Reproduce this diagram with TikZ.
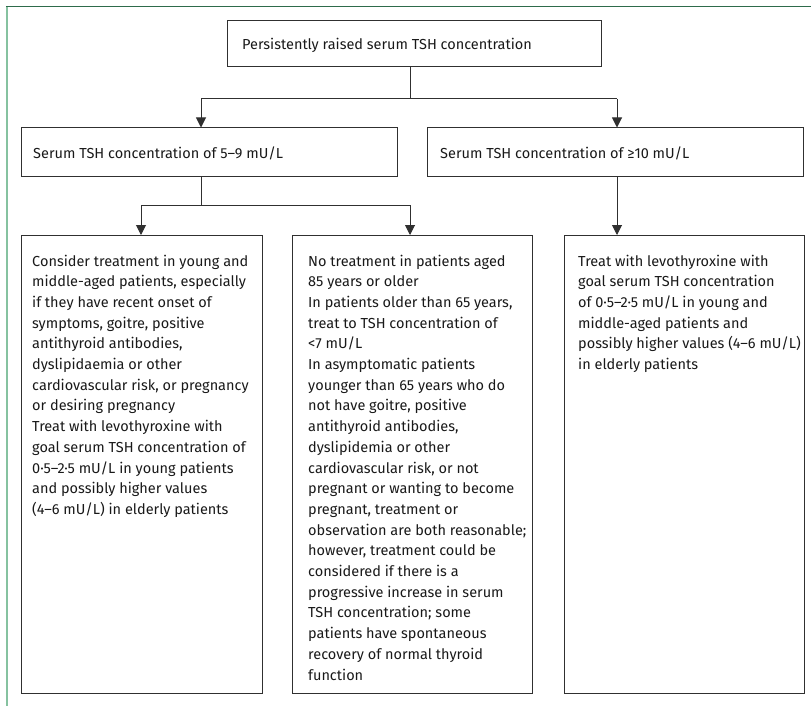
\documentclass[tikz,border=0pt]{standalone}
\usepackage{fontspec}
\setmainfont{Fira Sans}
\usetikzlibrary{arrows.meta}
\definecolor{framedark}{HTML}{2E6B4B}
\definecolor{framelight}{HTML}{86C2A0}
\definecolor{linegray}{HTML}{303030}
\begin{document}
\begin{tikzpicture}[x=1pt,y=-1pt,
  boxst/.style={draw=linegray, line width=1pt, inner sep=0pt, rectangle},
  txt/.style={anchor=base west, inner sep=0pt, font=\fontsize{14.5}{20.7}\selectfont, text=black!90},
  conn/.style={draw=linegray, line width=1pt},
  arr/.style={conn, -{Triangle[width=10pt,length=10pt]}}]
\useasboundingbox (0,0) rectangle (811,706);
% frame
\draw[framelight, line width=2pt] (7,7) -- (7,706);
\draw[framedark, line width=1pt] (6,7) -- (811,7);
% boxes
\node[boxst, minimum width=374pt, minimum height=46pt] (top) at (414,44) {};
\node[boxst, minimum width=376pt, minimum height=48pt] (b2) at (209,152) {};
\node[boxst, minimum width=376pt, minimum height=48pt] (b3) at (615,152) {};
\node[boxst, minimum width=241pt, minimum height=458pt] (b4) at (141.5,464.5) {};
\node[boxst, minimum width=240pt, minimum height=458pt] (b5) at (412,464.5) {};
\node[boxst, minimum width=240pt, minimum height=458pt] (b6) at (684,464.5) {};
% texts
\node[txt] (ttop) at (242,50) {Persistently raised serum TSH concentration};
\node[txt] (t2) at (33,158) {Serum TSH concentration of 5–9 mU/L};
\node[txt] (t3) at (440,158) {Serum TSH concentration of ≥10 mU/L};
\node[txt] (t4) at (32,266) {\begin{tabular}[t]{@{}l@{}}
Consider treatment in young and\\
middle-aged patients, especially\\
if they have recent onset of\\
symptoms, goitre, positive\\
antithyroid antibodies,\\
dyslipidaemia or other\\
cardiovascular risk, or pregnancy\\
or desiring pregnancy\\
Treat with levothyroxine with\\
goal serum TSH concentration of\\
0·5–2·5 mU/L in young patients\\
and possibly higher values\\
(4–6 mU/L) in elderly patients
\end{tabular}};
\node[txt] (t5) at (308,266) {\begin{tabular}[t]{@{}l@{}}
No treatment in patients aged\\
85 years or older\\
In patients older than 65 years,\\
treat to TSH concentration of\\
<7 mU/L\\
In asymptomatic patients\\
younger than 65 years who do\\
not have goitre, positive\\
antithyroid antibodies,\\
dyslipidemia or other\\
cardiovascular risk, or not\\
pregnant or wanting to become\\
pregnant, treatment or\\
observation are both reasonable;\\
however, treatment could be\\
considered if there is a\\
progressive increase in serum\\
TSH concentration; some\\
patients have spontaneous\\
recovery of normal thyroid\\
function
\end{tabular}};
\node[txt] (t6) at (578,266) {\begin{tabular}[t]{@{}l@{}}
Treat with levothyroxine with\\
goal serum TSH concentration\\
of 0·5–2·5 mU/L in young and\\
middle-aged patients and\\
possibly higher values (4–6 mU/L)\\
in elderly patients
\end{tabular}};
% connectors
\coordinate (j1) at (410,99);
\coordinate (a2) at (201,99);
\coordinate (a3) at (617,99);
\draw[conn] (top.south -| j1) -- (j1);
\draw[conn] (a2) -- (a3);
\draw[arr] (a2) -- (a2 |- b2.north);
\draw[arr] (a3) -- (a3 |- b3.north);
\coordinate (j2) at (201,205);
\coordinate (a4) at (141,205);
\coordinate (a5) at (410,205);
\draw[conn] (b2.south -| j2) -- (j2);
\draw[conn] (a4) -- (a5);
\draw[arr] (a4) -- (a4 |- b4.north);
\draw[arr] (a5) -- (a5 |- b5.north);
\coordinate (a6) at (617,176);
\draw[arr] (b3.south -| a6) -- (a6 |- b6.north);
\end{tikzpicture}
\end{document}
